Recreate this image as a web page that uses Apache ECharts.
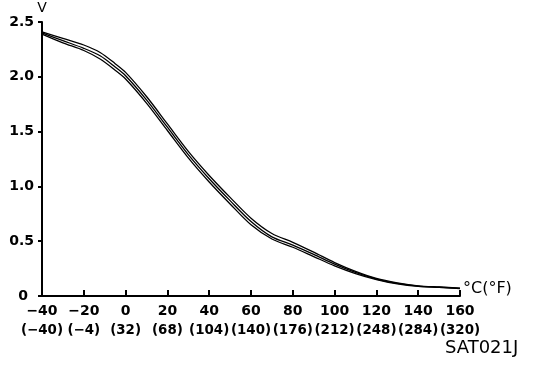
<!DOCTYPE html>
<html>
<head>
<meta charset="utf-8">
<script src="https://cdn.jsdelivr.net/npm/echarts@6/dist/echarts.min.js"></script>
<style>html,body{margin:0;padding:0;background:#fff;}#c{width:544px;height:368px;}</style>
</head>
<body>
<div id="c"></div>
<script>
var temps = [-40,-30,-20,-12,-5,0,10,20,30,40,50,60,70,80,90,100,110,120,130,140,150,160];
var upperV = [2.41,2.35,2.29,2.22,2.12,2.04,1.82,1.57,1.32,1.10,0.90,0.71,0.57,0.49,0.40,0.305,0.225,0.16,0.12,0.093,0.082,0.072];
var middleV = [2.40,2.33,2.26,2.19,2.09,2.01,1.79,1.54,1.29,1.07,0.87,0.68,0.54,0.465,0.38,0.29,0.215,0.155,0.115,0.09,0.08,0.07];
var lowerV = [2.39,2.31,2.24,2.16,2.06,1.98,1.76,1.51,1.26,1.04,0.84,0.65,0.52,0.445,0.36,0.275,0.205,0.15,0.11,0.087,0.078,0.068];
var xTickC = ['\u221240','\u221220','0','20','40','60','80','100','120','140','160'];
var xTickF = ['(\u221240)','(\u22124)','(32)','(68)','(104)','(140)','(176)','(212)','(248)','(284)','(320)'];

function pairs(vals){ return temps.map(function(t,i){ return [t, vals[i]]; }); }
var font = '"DejaVu Sans", "Liberation Sans", sans-serif';
var chart = echarts.init(document.getElementById('c'), null, {renderer:'canvas'});
function lineSeries(vals){
  return {type:'line', data:pairs(vals), smooth:0.3, symbol:'none',
    lineStyle:{color:'#000', width:1.3}, animation:false};
}
chart.setOption({
  animation:false,
  backgroundColor:'#fff',
  grid:{left:42, right:84, top:22, bottom:72, containLabel:false},
  xAxis:{type:'value', min:-40, max:160, interval:20,
    axisLine:{onZero:false, lineStyle:{color:'#000', width:2}},
    axisTick:{inside:true, length:6, lineStyle:{color:'#000', width:2}},
    splitLine:{show:false},
    axisLabel:{interval:0, hideOverlap:false, showMinLabel:true, showMaxLabel:true, margin:5, color:'#000',
      formatter:function(v){ var i=Math.round((v+40)/20); return '{c|'+xTickC[i]+'}\n{f|'+xTickF[i]+'}'; },
      rich:{c:{fontFamily:font, fontWeight:'bold', fontSize:14, lineHeight:20, color:'#000'},
            f:{fontFamily:font, fontWeight:'bold', fontSize:13.4, lineHeight:20, color:'#000'}}}
  },
  yAxis:{type:'value', min:0, max:2.5, interval:0.5,
    name:'V', nameGap:4, nameTextStyle:{fontFamily:font, fontSize:14, color:'#000', align:'center'},
    axisLine:{show:true, onZero:false, lineStyle:{color:'#000', width:2}},
    axisTick:{show:true, length:4, lineStyle:{color:'#000', width:2}},
    splitLine:{show:false},
    axisLabel:{margin:8, showMinLabel:true, showMaxLabel:true, color:'#000', fontFamily:font, fontWeight:'bold', fontSize:14,
      formatter:function(v){ return v===0 ? '{z|0}' : v.toFixed(1); },
      rich:{z:{fontFamily:font, fontWeight:'bold', fontSize:14, color:'#000', padding:[0,6,0,0]}}}
  },
  series:[lineSeries(upperV), lineSeries(middleV), lineSeries(lowerV)],
  graphic:[
    {type:'text', left:463, top:281, style:{text:'\u00b0C(\u00b0F)', font:'16px '+font, fill:'#000'}},
    {type:'text', left:445, top:339, style:{text:'SAT021J', font:'18px '+font, fill:'#000'}}
  ]
});
</script>
</body>
</html>
